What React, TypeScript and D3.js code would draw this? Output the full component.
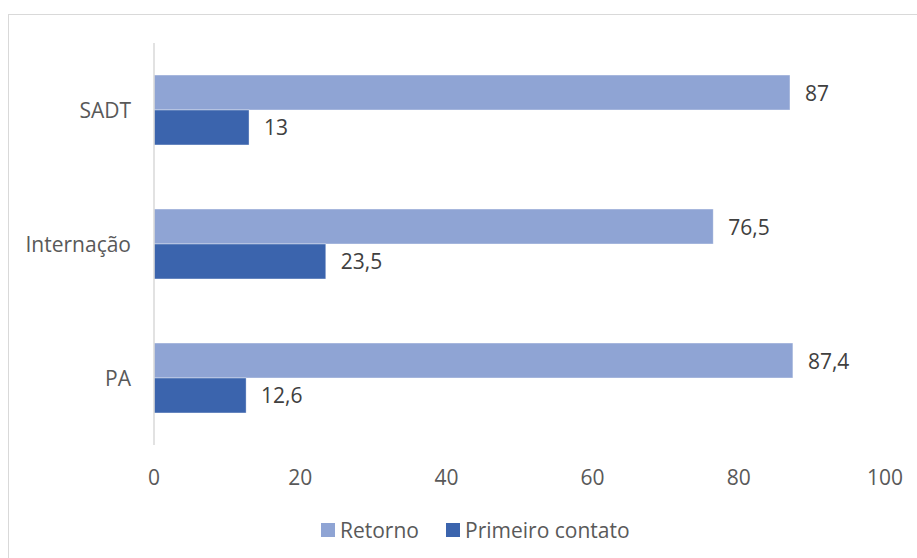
import React from "react";
import * as d3 from "d3";

const categories = ["SADT", "Internação", "PA"];
const seriesNames = ["Retorno", "Primeiro contato"];
const retorno = [87, 76.5, 87.4];
const primeiroContato = [13, 23.5, 12.6];
const xTicks = [0, 20, 40, 60, 80, 100];
const colors = ["#8FA4D4", "#3B64AD"];

const W = 917;
const H = 558;
const FONT = "'Open Sans', sans-serif";
const TEXT = "#595959";
const FS = 21;

const fmt = (v: number) => String(v).replace(".", ",");

export default function App() {
  const x = d3.scaleLinear().domain([0, 100]).range([154, 885]);
  const y = d3
    .scaleBand<string>()
    .domain(categories)
    .range([43, 445])
    .paddingInner(0.478)
    .paddingOuter(0.239);
  const sub = d3.scaleBand<string>().domain(seriesNames).range([0, y.bandwidth()]);
  const series = [retorno, primeiroContato];

  return (
    <svg
      width={W}
      height={H}
      style={{ position: "absolute", left: 0, top: 0, background: "#fff" }}
      fontFamily={FONT}
    >
      <rect x={8.5} y={14.5} width={W + 20} height={H + 20} fill="#fff" stroke="#d9d9d9" strokeWidth={1} />
      {categories.map((c, i) => (
        <g key={c}>
          <text
            x={131}
            y={(y(c) as number) + y.bandwidth() / 2}
            textAnchor="end"
            dominantBaseline="central"
            fontSize={FS}
            fill={TEXT}
          >
            {c}
          </text>
          {series.map((vals, s) => {
            const by = (y(c) as number) + (sub(seriesNames[s]) as number);
            const bh = sub.bandwidth();
            return (
              <g key={s}>
                <rect
                  x={x(0)}
                  y={by}
                  width={x(vals[i]) - x(0)}
                  height={bh}
                  fill={colors[s]}
                  stroke="#ffffff"
                  strokeOpacity={0.5}
                  strokeWidth={0.75}
                />
                <text
                  x={x(vals[i]) + 15}
                  y={by + bh / 2}
                  dominantBaseline="central"
                  fontSize={FS}
                  fill="#404040"
                >
                  {fmt(vals[i])}
                </text>
              </g>
            );
          })}
        </g>
      ))}
      <line x1={x(0)} x2={x(0)} y1={43} y2={445} stroke="#d9d9d9" strokeWidth={1.5} />
      {xTicks.map((t) => (
        <text
          key={t}
          x={x(t)}
          y={477}
          textAnchor="middle"
          dominantBaseline="central"
          fontSize={FS}
          fill={TEXT}
        >
          {t}
        </text>
      ))}
      <g>
        <rect x={321} y={523} width={14} height={14} fill={colors[0]} />
        <text x={340} y={530} dominantBaseline="central" fontSize={FS} fill={TEXT}>
          {seriesNames[0]}
        </text>
        <rect x={446} y={523} width={14} height={14} fill={colors[1]} />
        <text x={465} y={530} dominantBaseline="central" fontSize={FS} fill={TEXT}>
          {seriesNames[1]}
        </text>
      </g>
    </svg>
  );
}
